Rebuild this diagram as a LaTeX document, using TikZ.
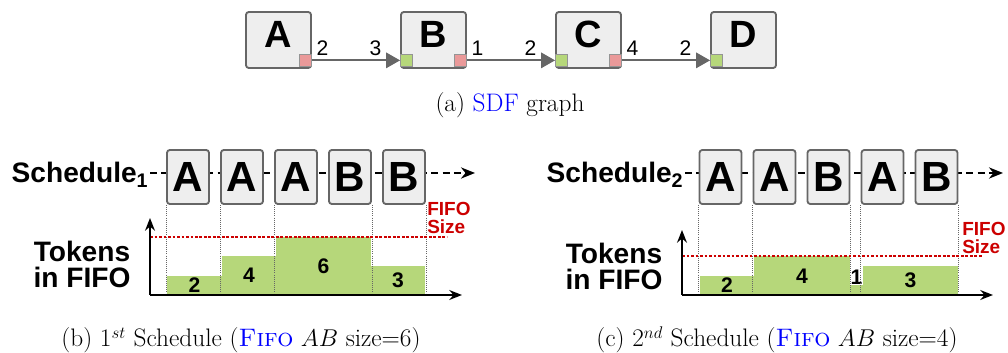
\documentclass[tikz,border=0pt]{standalone}
\usepackage{fontspec}
\newfontfamily\arialfont{Liberation Sans}
\usetikzlibrary{arrows.meta,positioning}
\definecolor{boxgray}{HTML}{EEEEEE}
\definecolor{boxline}{HTML}{666666}
\definecolor{portred}{HTML}{EA9999}
\definecolor{portgreen}{HTML}{B6D77A}
\definecolor{bargreen}{HTML}{B6D77A}
\definecolor{fifored}{HTML}{CC0000}
\tikzset{
  actor/.style={draw=boxline, fill=boxgray, rounded corners=2pt, line width=1.3pt,
    minimum width=1.625cm, minimum height=1.4cm, inner sep=0pt, text depth=0.275cm,
    font=\arialfont\bfseries\fontsize{27}{27}\selectfont},
  firing/.style={actor, minimum width=1.05cm, minimum height=1.35cm, text depth=0pt,
    font=\arialfont\bfseries\fontsize{30}{30}\selectfont},
  port/.style={draw=boxline!70, line width=0.5pt, minimum size=0.31cm, inner sep=0pt},
  flow/.style={draw=boxline, line width=1.4pt, -{Triangle[length=10pt,width=11pt]}},
  rate/.style={above=2.5pt, inner sep=0pt, font=\arialfont\fontsize{15}{15}\selectfont},
  sched/.style={font=\arialfont\bfseries\fontsize{20}{20}\selectfont, inner sep=1pt},
  timeline/.style={line width=1.4pt, dash pattern=on 5pt off 3pt, -{Stealth[length=10pt,width=8pt]}},
  axis/.style={line width=1.4pt, -{Stealth[length=9pt,width=7pt]}},
  guide/.style={draw=boxline, line width=0.5pt, densely dotted},
  sizeline/.style={draw=fifored, line width=0.9pt, dash pattern=on 2pt off 1.2pt},
  bar/.style={fill=bargreen},
  count/.style={font=\arialfont\bfseries\fontsize{15}{15}\selectfont, inner sep=1pt},
  ylabel/.style={font=\arialfont\bfseries\fontsize{20}{18.5}\selectfont, align=center},
  fifo/.style={font=\arialfont\bfseries\fontsize{13.5}{12.5}\selectfont, text=fifored, align=left, anchor=west, inner sep=0pt},
  caption/.style={anchor=base, font=\fontsize{18}{20}\selectfont}
}
\begin{document}
\begin{tikzpicture}[x=0.025cm, y=-0.025cm]
  \useasboundingbox (0,0) rectangle (1008,353);

  % (a) SDF graph
  \foreach \n [count=\i] in {A,B,C,D}
    \node[actor] (\n) at ({123.5+155*\i},40) {\n};
  \foreach \n in {A,B,C}
    \node[port, fill=portred, anchor=south east] (\n-out) at ([yshift=0.05cm]\n.south east) {};
  \foreach \n in {B,C,D}
    \node[port, fill=portgreen, anchor=south west] (\n-in) at ([yshift=0.05cm]\n.south west) {};
  \begin{scope}
    \draw[flow] (A-out.east) -- node[rate, pos=0.12] (ab-p) {2} node[rate, pos=0.72] (ab-c) {3} (B-in.west);
    \draw[flow] (B-out.east) -- node[rate, pos=0.12] (bc-p) {1} node[rate, pos=0.72] (bc-c) {2} (C-in.west);
    \draw[flow] (C-out.east) -- node[rate, pos=0.12] (cd-p) {4} node[rate, pos=0.72] (cd-c) {2} (D-in.west);
  \end{scope}
  \node[caption] (cap-a) at (510,112) {(a) \textcolor{blue}{SDF} graph};

  % (b) first schedule
  \node[sched, anchor=base west] (sched1) at (10,183) {Schedule\textsubscript{1}};
  \coordinate (end1) at (475,173);
  \draw[timeline] (sched1.east |- end1) -- (end1);
  \foreach \a [count=\i] in {A,A,A,B,B}
    \node[firing] (s1-\i) at ({134+54*\i},177) {\a};
  \coordinate (o1) at (150,295);
  \foreach \xa/\xb/\n [count=\i] in {167/222/2, 222/276/4, 276/371/6, 371/425/3} {
    \fill[bar] (\xa,295) rectangle (\xb,{295-9.7*\n});
    \node[count] (c1-\i) at ({(\xa+\xb)/2},{295-4.85*\n}) {\n};
  }
  \foreach \c in {s1-1.south west, s1-2.south west, s1-3.south west, s1-4.south east, s1-5.south east}
    \draw[guide] (\c) -- (\c |- o1);
  \draw[sizeline] (o1 |- 0,237) -- (447,237);
  \draw[axis] (o1) -- (150,218);
  \draw[axis] (o1) -- (462,295);
  \node[ylabel] (tok1) at (82,264) {Tokens\\in FIFO};
  \node[fifo] (size1) at (427,218) {FIFO\\Size};
  \node[caption] (cap-b) at (241,347) {(b) 1$^{st}$ Schedule (\textcolor{blue}{\textsc{Fifo}} $AB$ size=6)};

  % (c) second schedule
  \node[sched, anchor=base west] (sched2) at (545,183) {Schedule\textsubscript{2}};
  \coordinate (end2) at (1003,173);
  \draw[timeline] (sched2.east |- end2) -- (end2);
  \foreach \a [count=\i] in {A,A,B,A,B}
    \node[firing] (s2-\i) at ({666.5+54*\i},177) {\a};
  \coordinate (o2) at (682,295);
  \foreach \xa/\xb/\n [count=\i] in {700/754/2, 754/850/4, 850/863/1, 863/958/3}
    \fill[bar] (\xa,295) rectangle (\xb,{295-9.7*\n});
  \node[count] (c2-1) at (727,285) {2};
  \node[count] (c2-2) at (802,276) {4};
  \node[count, fill=white, inner sep=0.5pt] (c2-3) at (856.5,277) {1};
  \node[count] (c2-4) at (910.5,280) {3};
  \foreach \c in {s2-1.south west, s2-2.south west, s2-3.south east, s2-4.south west, s2-5.south east}
    \draw[guide] (\c) -- (\c |- o2);
  \draw[sizeline] (o2 |- 0,256) -- (982,256);
  \draw[axis] (o2) -- (682,230);
  \draw[axis] (o2) -- (993,295);
  \node[ylabel] (tok2) at (614,266) {Tokens\\in FIFO};
  \node[fifo] (size2) at (962,238) {FIFO\\Size};
  \node[caption] (cap-c) at (777,347) {(c) 2$^{nd}$ Schedule (\textcolor{blue}{\textsc{Fifo}} $AB$ size=4)};
\end{tikzpicture}
\end{document}
